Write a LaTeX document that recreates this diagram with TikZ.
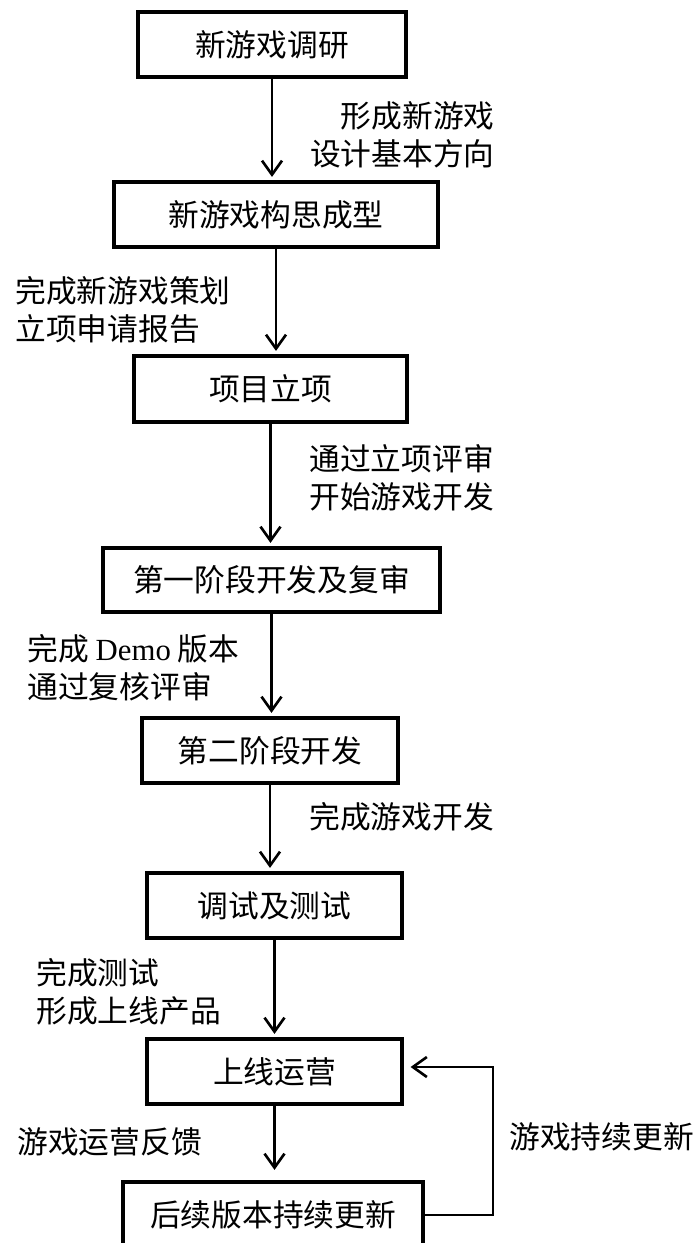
\documentclass[tikz,border=0pt]{standalone}
\usepackage{fontspec}
\setmainfont{Noto Sans CJK SC}
\newfontfamily\demofont{Liberation Serif}
\usetikzlibrary{arrows.meta,positioning,calc}
\tikzset{>={Straight Barb[length=0.28cm,width=0.4cm]}}

\begin{document}
\begin{tikzpicture}[x=0.02cm, y=-0.02cm, font=\fontsize{17.5pt}{21.6pt}\selectfont]
		\tikzset{stagebox/.style={draw,line width=1.8pt,inner sep=0pt,minimum height=1.3cm}}
		\tikzset{steplabel/.style={inner sep=0pt}}
		\tikzset{flow/.style={->,line width=1.5pt,shorten >=2pt}}
		
		\clip (0,0) rectangle (695,1243);
		
		\node[stagebox,minimum width=5.36cm] (research) at (272,44.5) {新游戏调研};
		\node[stagebox,minimum width=6.48cm] (concept) at (276,214.5) {新游戏构思成型};
		\node[stagebox,minimum width=5.46cm,minimum height=1.32cm] (approval) at (270.5,389) {项目立项};
		\node[stagebox,minimum width=6.74cm,minimum height=1.28cm] (phaseone) at (271.5,580) {第一阶段开发及复审};
		\node[stagebox,minimum width=5.12cm] (phasetwo) at (270,750.5) {第二阶段开发};
		\node[stagebox,minimum width=5.10cm] (testing) at (274.5,905.5) {调试及测试};
		\node[stagebox,minimum width=5.10cm] (launch) at (274.5,1071.5) {上线运营};
		\node[stagebox,minimum width=6.00cm,minimum height=1.32cm] (update) at (273,1215) {后续版本持续更新};
		
		\node[steplabel,align=right,anchor=east] (lblresearch) at (495,135) {形成新游戏\\设计基本方向};
		\node[steplabel,align=left,anchor=west] (lblconcept) at (15,310) {完成新游戏策划\\立项申请报告};
		\node[steplabel,align=left,anchor=west] (lblapproval) at (309,478) {通过立项评审\\开始游戏开发};
		\node[steplabel,align=left,anchor=west] (lblphaseone) at (27,668) {完成 {\demofont Demo} 版本\\通过复核评审};
		\node[steplabel,anchor=west] (lblphasetwo) at (309,817) {完成游戏开发};
		\node[steplabel,align=left,anchor=west] (lbltesting) at (36,992) {完成测试\\形成上线产品};
		\node[steplabel,anchor=west] (lbllaunch) at (17,1142) {游戏运营反馈};
		\node[steplabel,anchor=west] (lblupdate) at (509,1137) {游戏持续更新};
		
		\draw[flow] (research.south) -- (research.south |- concept.north);
		\draw[flow] (concept.south) -- (concept.south |- approval.north);
		\draw[flow] (approval.south) -- (approval.south |- phaseone.north);
		\draw[flow] (phaseone.south) -- (phaseone.south |- phasetwo.north);
		\draw[flow] (phasetwo.south) -- (phasetwo.south |- testing.north);
		\draw[flow] (testing.south) -- (testing.south |- launch.north);
		\draw[flow,shorten >=6pt] (launch.south) -- (launch.south |- update.north);
		
		\coordinate (loopback) at (493,1067);
		\draw[flow,shorten >=4pt] (update.east) -| (loopback) -- (loopback -| launch.east);
	\end{tikzpicture}
\end{document}
